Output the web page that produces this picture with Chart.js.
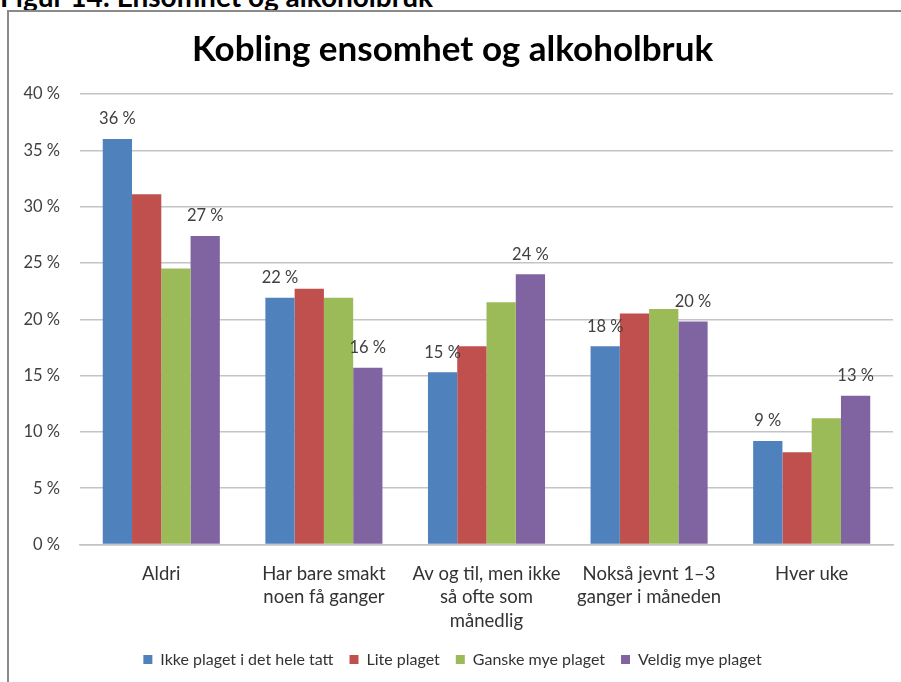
<!DOCTYPE html>
<html>
<head>
<meta charset="utf-8">
<script src="https://cdn.jsdelivr.net/npm/chart.js@4"></script>
<style>
  html, body { margin: 0; padding: 0; background: #fff; overflow: hidden; }
  #page { position: relative; width: 901px; height: 682px; overflow: hidden; }
  #heading {
    position: absolute; left: 0; top: -18px;
    font-family: Lato, sans-serif; font-weight: bold; font-size: 28px; line-height: 28px;
    color: #000; white-space: nowrap;
  }
  #frame {
    position: absolute; left: 7px; top: 10px; width: 1000px; height: 800px;
    border-left: 2px solid #8a8a8a; border-top: 2px solid #8a8a8a;
  }
  #chart { position: absolute; left: 0; top: 0; }
</style>
</head>
<body>
<div id="page">
  <div id="heading">Figur 14: Ensomhet og alkoholbruk</div>
  <div id="frame"></div>
  <canvas id="chart" width="901" height="682"></canvas>
</div>
<script>
// --- Data ---
const categories = [
    'Aldri',
    ['Har bare smakt', 'noen få ganger'],
    ['Av og til, men ikke', 'så ofte som', 'månedlig'],
    ['Nokså jevnt 1–3', 'ganger i måneden'],
    'Hver uke'
];
const seriesNames = ['Ikke plaget i det hele tatt', 'Lite plaget', 'Ganske mye plaget', 'Veldig mye plaget'];
const ikkePlaget = [36.0, 21.9, 15.3, 17.6, 9.2];
const litePlaget = [31.1, 22.7, 17.6, 20.5, 8.2];
const ganskeMye  = [24.5, 21.9, 21.5, 20.9, 11.2];
const veldigMye  = [27.4, 15.7, 24.0, 19.8, 13.2];
const yTicks = [0, 5, 10, 15, 20, 25, 30, 35, 40];
// only these series get value labels in the original
const labelledSeries = [0, 3];

const colors = ['#4F81BD', '#C0504D', '#9BBB59', '#8064A2'];
const FONT = 'Lato, "Open Sans", sans-serif';

// --- Plugin: value labels above bars ---
const barLabels = {
    id: 'barLabels',
    afterDatasetsDraw(chart) {
        const ctx = chart.ctx;
        ctx.save();
        ctx.font = '16.5px ' + FONT;
        ctx.fillStyle = '#404040';
        ctx.textAlign = 'center';
        ctx.textBaseline = 'middle';
        labelledSeries.forEach(di => {
            const meta = chart.getDatasetMeta(di);
            const values = chart.data.datasets[di].data;
            meta.data.forEach((bar, i) => {
                ctx.fillText(Math.round(values[i]) + ' %', bar.x, bar.y - 20);
            });
        });
        ctx.restore();
    }
};

const seriesData = [ikkePlaget, litePlaget, ganskeMye, veldigMye];

new Chart(document.getElementById('chart'), {
    type: 'bar',
    data: {
        labels: categories,
        datasets: seriesNames.map((name, i) => ({
            label: name,
            data: seriesData[i],
            backgroundColor: colors[i],
            categoryPercentage: 0.72,
            barPercentage: 1.0
        }))
    },
    plugins: [barLabels],
    options: {
        responsive: false,
        animation: false,
        devicePixelRatio: 1,
        layout: { padding: { left: 12, right: 8, top: 0, bottom: 4.5 } },
        plugins: {
            title: {
                display: true,
                text: 'Kobling ensomhet og alkoholbruk',
                color: '#000',
                font: { family: FONT, size: 35, weight: 'bold' },
                padding: { top: 29, bottom: 23 }
            },
            legend: {
                position: 'bottom',
                labels: {
                    color: '#333',
                    font: { family: FONT, size: 16 },
                    boxWidth: 9,
                    boxHeight: 9,
                    padding: 16
                }
            },
            tooltip: { enabled: false }
        },
        scales: {
            y: {
                min: 0,
                max: 40,
                afterBuildTicks(scale) { scale.ticks = yTicks.map(v => ({ value: v })); },
                afterFit(scale) { scale.width = 68; },
                ticks: {
                    color: '#404040',
                    font: { family: FONT, size: 16.5 },
                    padding: 20,
                    callback: v => v + ' %'
                },
                grid: { color: '#c4c4c4', lineWidth: 1.5, drawTicks: false },
                border: { display: false }
            },
            x: {
                afterFit(scale) { scale.height = 91; },
                ticks: {
                    color: '#333',
                    font: { family: FONT, size: 18.5, lineHeight: 1.27 },
                    padding: 9.5,
                    maxRotation: 0,
                    autoSkip: false
                },
                grid: { display: false },
                border: { color: '#c4c4c4', width: 1.5 }
            }
        }
    }
});
</script>
</body>
</html>
